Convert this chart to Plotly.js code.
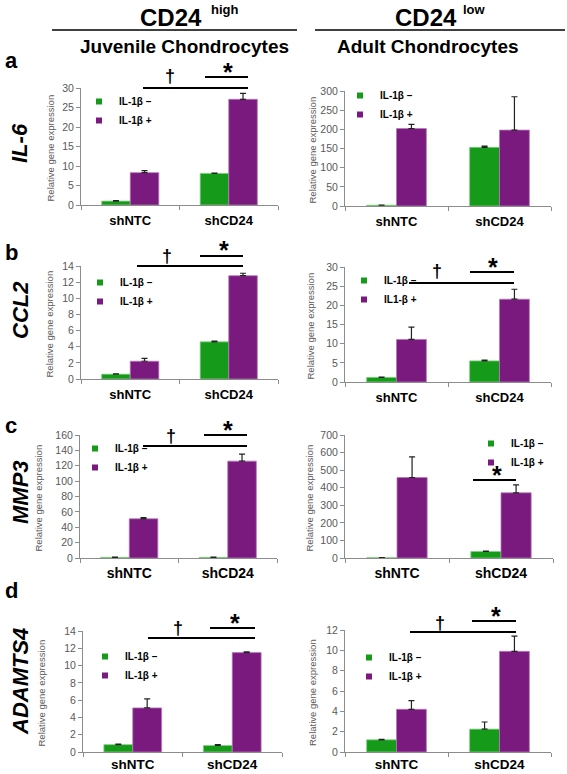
<!DOCTYPE html>
<html>
<head>
<meta charset="utf-8">
<script src="https://cdn.plot.ly/plotly-3.0.1.min.js"></script>
<style>html,body{margin:0;padding:0;background:#fff}#chart{width:567px;height:774px}</style>
</head>
<body>
<div id="chart"></div>
<script>
// ---------------- DATA ----------------
const categories = ['shNTC', 'shCD24'];

const il6JuvMinus = [1.0, 8.1],   il6JuvMinusErr = [0.1, 0.1];
const il6JuvPlus  = [8.3, 27.1],  il6JuvPlusErr  = [0.5, 1.5];
const il6AdMinus  = [2, 153],     il6AdMinusErr  = [0.5, 3];
const il6AdPlus   = [202, 198],   il6AdPlusErr   = [11, 87];

const ccl2JuvMinus = [0.6, 4.6],  ccl2JuvMinusErr = [0.05, 0.1];
const ccl2JuvPlus  = [2.2, 12.8], ccl2JuvPlusErr  = [0.35, 0.3];
const ccl2AdMinus  = [1.2, 5.5],  ccl2AdMinusErr  = [0.1, 0.2];
const ccl2AdPlus   = [11.1, 21.6],ccl2AdPlusErr   = [3.2, 2.6];

const mmp3JuvMinus = [0.8, 0.8],  mmp3JuvMinusErr = [0.3, 0.3];
const mmp3JuvPlus  = [51, 126],   mmp3JuvPlusErr  = [1.5, 9];
const mmp3AdMinus  = [1.5, 37],   mmp3AdMinusErr  = [0.5, 2];
const mmp3AdPlus   = [458, 371],  mmp3AdPlusErr   = [118, 45];

const adamJuvMinus = [0.85, 0.75],adamJuvMinusErr = [0.05, 0.1];
const adamJuvPlus  = [5.1, 11.5], adamJuvPlusErr  = [1.05, 0.1];
const adamAdMinus  = [1.2, 2.25], adamAdMinusErr  = [0.05, 0.7];
const adamAdPlus   = [4.2, 9.9],  adamAdPlusErr   = [0.85, 1.5];

const legendMinus = ['IL-1β –', 'IL-1β –', 'IL-1β –', 'IL-1β –', 'IL-1β –', 'IL-1β –', 'IL-1β –', 'IL-1β –'];
const legendPlus  = ['IL-1β +', 'IL-1β +', 'IL-1β +', 'IL1-β +', 'IL-1β +', 'IL-1β +', 'IL-1β +', 'IL-1β +'];

const yMax  = [30, 300, 14, 30, 160, 700, 14, 12];
const yStep = [5, 50, 2, 5, 20, 100, 2, 2];

const geneNames   = ['IL-6', 'CCL2', 'MMP3', 'ADAMTS4'];
const panelLetters = ['a', 'b', 'c', 'd'];
const yTitle = 'Relative gene expression';

const series = [
  [il6JuvMinus, il6JuvMinusErr, il6JuvPlus, il6JuvPlusErr],
  [il6AdMinus, il6AdMinusErr, il6AdPlus, il6AdPlusErr],
  [ccl2JuvMinus, ccl2JuvMinusErr, ccl2JuvPlus, ccl2JuvPlusErr],
  [ccl2AdMinus, ccl2AdMinusErr, ccl2AdPlus, ccl2AdPlusErr],
  [mmp3JuvMinus, mmp3JuvMinusErr, mmp3JuvPlus, mmp3JuvPlusErr],
  [mmp3AdMinus, mmp3AdMinusErr, mmp3AdPlus, mmp3AdPlusErr],
  [adamJuvMinus, adamJuvMinusErr, adamJuvPlus, adamJuvPlusErr],
  [adamAdMinus, adamAdMinusErr, adamAdPlus, adamAdPlusErr]
];

// ---------------- LAYOUT / STYLE ----------------
const W = 567, H = 774;
const px = x => x / W;
const py = y => 1 - y / H;
const FONT = 'Arial, "Liberation Sans", Helvetica, sans-serif';
const GREEN = '#169a1a', GREEN_EDGE = '#7fd07f';
const PURPLE = '#7a1a7e', PURPLE_EDGE = '#b47ab6';
const AXIS = '#8c8c8c';

// plot areas in pixels: [left, right, top, bottom]
const boxes = [
  [81, 278, 88, 205], [345, 551, 91, 206],
  [81, 278, 266, 379], [345, 551, 267, 382],
  [80, 277, 435, 558], [345, 553, 435, 558],
  [83, 282, 631, 752], [345, 551, 630, 752]
];
const catFont = [13, 13, 13, 13, 14, 14, 13.5, 13.5];
const catStandoff = [3, 3, 3, 3, 2, 2, 0, 0];
// y-title centre x (px)
const yTitleX = [50, 312, 49, 310, 38, 309, 41, 312];
// legend first-marker positions (px)
const legPos = [[97, 99], [358, 93], [98, 280], [362, 278], [93, 446], [489, 441], [103, 654], [367, 655]];

const data = [];
const layout = {
  width: W, height: H,
  margin: {l: 0, r: 0, t: 0, b: 0},
  paper_bgcolor: '#fff', plot_bgcolor: 'rgba(0,0,0,0)',
  barmode: 'group', bargap: 0.42, bargroupgap: 0,
  font: {family: FONT, color: '#000'},
  showlegend: true,
  annotations: [], shapes: []
};

function ann(x, y, text, size, extra) {
  layout.annotations.push(Object.assign({
    xref: 'paper', yref: 'paper', x: px(x), y: py(y), text: text, showarrow: false,
    xanchor: 'center', yanchor: 'middle',
    font: {family: FONT, size: size, color: '#000', weight: 'bold'}
  }, extra || {}));
}
function line(x0, x1, y, w) {
  layout.shapes.push({type: 'line', xref: 'paper', yref: 'paper', x0: px(x0), x1: px(x1), y0: py(y), y1: py(y),
    line: {color: '#000', width: w}});
}

for (let i = 0; i < 8; i++) {
  const n = i + 1;
  const sfx = n === 1 ? '' : String(n);
  const xa = 'x' + sfx, ya = 'y' + sfx, lg = 'legend' + sfx;
  const [minus, minusErr, plus, plusErr] = series[i];
  data.push({
    type: 'bar', x: categories, y: minus, xaxis: xa, yaxis: ya, name: legendMinus[i], showlegend: false,
    marker: {color: GREEN, line: {color: GREEN_EDGE, width: 0.8}},
    error_y: {type: 'data', symmetric: false, array: minusErr, arrayminus: minusErr.map(() => 0), color: '#222', thickness: 1.2, width: 3}
  });
  data.push({
    type: 'bar', x: categories, y: plus, xaxis: xa, yaxis: ya, name: legendPlus[i], showlegend: false,
    marker: {color: PURPLE, line: {color: PURPLE_EDGE, width: 0.8}},
    error_y: {type: 'data', symmetric: false, array: plusErr, arrayminus: plusErr.map(() => 0), color: '#222', thickness: 1.2, width: 3}
  });
  // legend entries
  data.push({type: 'scatter', mode: 'markers', x: [categories[0]], y: [null], xaxis: xa, yaxis: ya, name: legendMinus[i],
    legend: lg, marker: {symbol: 'square', size: 6, color: GREEN}, hoverinfo: 'skip'});
  data.push({type: 'scatter', mode: 'markers', x: [categories[0]], y: [null], xaxis: xa, yaxis: ya, name: legendPlus[i],
    legend: lg, marker: {symbol: 'square', size: 6, color: PURPLE}, hoverinfo: 'skip'});

  const [l, r, t, b] = boxes[i];
  layout['xaxis' + sfx] = {
    domain: [px(l), px(r)], anchor: ya, type: 'category', range: [-0.5, 1.5],
    showline: true, linecolor: AXIS, linewidth: 1, ticks: 'outside', tickson: 'boundaries',
    ticklen: 4, tickcolor: AXIS, showgrid: false, zeroline: false, fixedrange: true,
    tickfont: {family: FONT, size: catFont[i], color: '#000', weight: 'bold'}, ticklabelstandoff: catStandoff[i]
  };
  layout['yaxis' + sfx] = {
    domain: [py(b), py(t)], anchor: xa, range: [0, yMax[i]], dtick: yStep[i], tick0: 0,
    showline: true, linecolor: AXIS, linewidth: 1, ticks: 'outside', ticklen: 4, tickcolor: AXIS,
    showgrid: false, zeroline: false, fixedrange: true,
    tickfont: {family: FONT, size: 10.5, color: '#595959'}
  };
  // y-axis title
  ann(yTitleX[i], (t + b) / 2 + 2, yTitle, 9.5, {textangle: -90,
    font: {family: FONT, size: 9.5, color: '#595959'}});
  const [mx, my] = legPos[i];
  layout[lg] = {
    x: px(mx - 18), y: py(my - 12), xanchor: 'left', yanchor: 'top',
    bgcolor: 'rgba(0,0,0,0)', borderwidth: 0, tracegroupgap: 0,
    font: {family: FONT, size: 10, color: '#000', weight: 'bold'},
    itemclick: false, itemdoubleclick: false
  };
}

// Headers
ann(171, 17, '<b>CD24</b>', 24);
ann(224, 9, '<b>high</b>', 13);
ann(426, 17, '<b>CD24</b>', 24);
ann(474, 9, '<b>low</b>', 13);
line(52, 297, 30, 1.5);
line(315, 565, 30, 1.5);
ann(184, 47, '<b>Juvenile Chondrocytes</b>', 19);
ann(428, 47, '<b>Adult Chondrocytes</b>', 19);

// panel letters & gene names
const letterY = [60, 252, 425, 590];
const geneY = [143, 310, 492, 682];
for (let k = 0; k < 4; k++) {
  ann(11, letterY[k], '<b>' + panelLetters[k] + '</b>', 22);
  ann(20, geneY[k], '<b><i>' + geneNames[k] + '</i></b>', 22, {textangle: -90,
    font: {family: FONT, size: 22, color: '#000', weight: 'bold', style: 'italic'}});
}

// significance marks: [x0, x1, y]
const longLines = [[143, 248, 88], [137, 243, 266], [409, 514, 283], [143, 247, 446], [148, 255, 638], [410, 516, 632]];
const shortLines = [[205, 248, 77], [200, 243, 256], [470, 514, 272], [204, 247, 435], [473, 516, 480], [210, 255, 628], [472, 516, 621]];
const daggers = [[170, 76], [167, 256], [437, 271], [171, 436], [178, 628], [440, 623]];
// star glyph tops (px)
const stars = [[228, 60], [224, 238], [493, 255], [228, 418], [497, 463], [235, 611], [496, 604]];
longLines.forEach(s => line(s[0], s[1], s[2], 1.8));
shortLines.forEach(s => line(s[0], s[1], s[2], 1.8));
daggers.forEach(d => ann(d[0], d[1], '<b>†</b>', 18));
stars.forEach(s => ann(s[0], s[1] - 4, '<b>*</b>', 25, {yanchor: 'top', height: 17, valign: 'top'}));

Plotly.newPlot('chart', data, layout, {staticPlot: true, displayModeBar: false});
</script>
</body>
</html>
